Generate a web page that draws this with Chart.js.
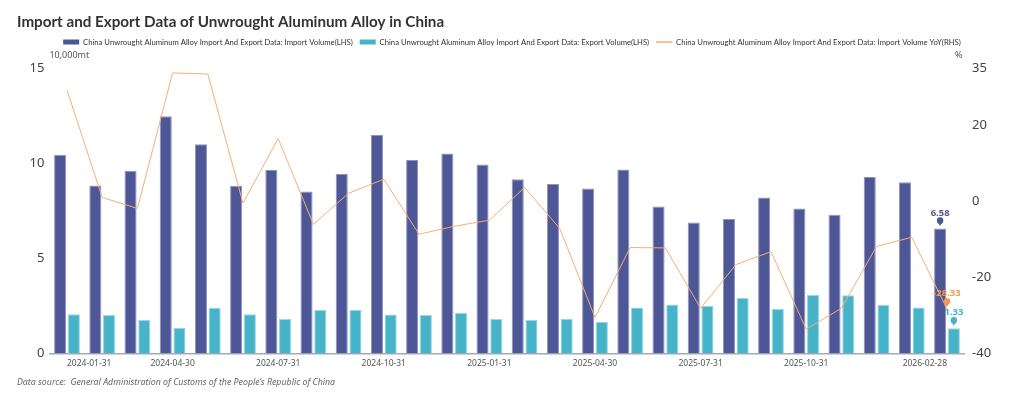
<!DOCTYPE html>
<html>
<head>
<meta charset="utf-8">
<script src="https://cdn.jsdelivr.net/npm/chart.js@4"></script>
<style>
  html, body { margin: 0; padding: 0; background: #fff; }
  #wrap { width: 1024px; height: 399px; }
</style>
</head>
<body>
<div id="wrap"><canvas id="chart"></canvas></div>
<script>
var months = ['2024-01-31','2024-02-29','2024-03-31','2024-04-30','2024-05-31','2024-06-30',
  '2024-07-31','2024-08-31','2024-09-30','2024-10-31','2024-11-30','2024-12-31',
  '2025-01-31','2025-02-28','2025-03-31','2025-04-30','2025-05-31','2025-06-30',
  '2025-07-31','2025-08-31','2025-09-30','2025-10-31','2025-11-30','2025-12-31',
  '2026-01-31','2026-02-28'];

// 10,000mt
var importVolume = [10.47, 8.85, 9.62, 12.50, 11.02, 8.83, 9.66, 8.53, 9.46, 11.51, 10.19, 10.54, 9.96,
  9.18, 8.93, 8.69, 9.69, 7.74, 6.90, 7.08, 8.21, 7.63, 7.31, 9.30, 9.02, 6.58];
var exportVolume = [2.07, 2.02, 1.76, 1.35, 2.41, 2.07, 1.81, 2.29, 2.30, 2.05, 2.02, 2.13, 1.81,
  1.76, 1.83, 1.67, 2.42, 2.58, 2.50, 2.92, 2.35, 3.08, 3.06, 2.55, 2.42, 1.33];
// %
var importYoY = [29.4, 1.1, -1.8, 33.9, 33.6, -0.4, 16.6, -6.0, 2.2, 5.9, -8.6, -6.5, -4.9,
  3.7, -7.1, -30.5, -12.1, -12.2, -28.1, -16.6, -13.2, -33.6, -28.1, -11.8, -9.4, -28.33];

// which month labels show on the x axis
var shownTicks = ['2024-01-31', '2024-04-30', '2024-07-31', '2024-10-31', '2025-01-31',
  '2025-04-30', '2025-07-31', '2025-10-31', '2026-02-28'];
var leftTicks = [0, 5, 10, 15];
var rightTicks = [-40, -20, 0, 20, 35];

var seriesNames = [
  'China Unwrought Aluminum Alloy Import And Export Data: Import Volume(LHS)',
  'China Unwrought Aluminum Alloy Import And Export Data: Export Volume(LHS)',
  'China Unwrought Aluminum Alloy Import And Export Data: Import Volume YoY(RHS)'
];

var colImport = '#4e5796';
var colExport = '#46b3c9';
var colYoY = '#f6ad74';
var fontFam = '"Noto Sans", "Open Sans", sans-serif';
var fontNarrow = 'Lato, "Noto Sans", sans-serif';

// pins + value labels on the last point, unit texts above the axes
var lastValuePins = {
  id: 'lastValuePins',
  afterDatasetsDraw: function(chart) {
    var ctx = chart.ctx;
    var area = chart.chartArea;
    ctx.save();
    ctx.font = '9px ' + fontFam;
    ctx.fillStyle = '#555';
    ctx.textBaseline = 'middle';
    ctx.textAlign = 'left';
    ctx.fillText('10,000mt', area.left, area.top - 13);
    ctx.textAlign = 'right';
    ctx.fillText('%', area.right - 2, area.top - 13);

    chart.data.datasets.forEach(function(ds, i) {
      var meta = chart.getDatasetMeta(i);
      var n = ds.data.length - 1;
      var el = meta.data[n];
      if (!el) return;
      var x = el.x, y = el.y;
      ctx.fillStyle = ds.pinColor;
      ctx.beginPath();
      ctx.arc(x, y - 8, 3.2, 0, Math.PI * 2);
      ctx.fill();
      ctx.beginPath();
      ctx.moveTo(x - 2.6, y - 6.5);
      ctx.lineTo(x + 2.6, y - 6.5);
      ctx.lineTo(x, y - 2.5);
      ctx.closePath();
      ctx.fill();
      ctx.font = 'bold 9.5px ' + fontFam;
      ctx.textAlign = 'center';
      ctx.textBaseline = 'bottom';
      ctx.fillText(ds.data[n].toFixed(2), x, y - 11);
    });
    ctx.restore();
  }
};

var chart = new Chart(document.getElementById('chart'), {
  type: 'bar',
  data: {
    labels: months,
    datasets: [
      {
        label: seriesNames[0],
        data: importVolume,
        backgroundColor: colImport,
        borderColor: '#8d93c2',
        borderWidth: 1,
        pinColor: colImport,
        yAxisID: 'y',
        categoryPercentage: 0.78,
        barPercentage: 0.88,
        order: 2
      },
      {
        label: seriesNames[1],
        data: exportVolume,
        backgroundColor: colExport,
        borderColor: '#9ad7e3',
        borderWidth: 1,
        pinColor: colExport,
        yAxisID: 'y',
        categoryPercentage: 0.78,
        barPercentage: 0.88,
        order: 2
      },
      {
        type: 'line',
        label: seriesNames[2],
        data: importYoY,
        borderColor: colYoY,
        backgroundColor: colYoY,
        pinColor: '#f39a4f',
        borderWidth: 1,
        pointRadius: 0,
        tension: 0,
        yAxisID: 'y1',
        order: 1
      }
    ]
  },
  options: {
    responsive: true,
    maintainAspectRatio: false,
    animation: false,
    layout: { padding: { left: 17, right: 17, top: 0, bottom: 0 } },
    plugins: {
      title: {
        display: true,
        text: 'Import and Export Data of Unwrought Aluminum Alloy in China',
        align: 'start',
        color: '#333',
        font: { family: fontNarrow, size: 15.2, weight: 'bold' },
        padding: { top: 13, bottom: 0 }
      },
      subtitle: {
        display: true,
        position: 'bottom',
        align: 'start',
        text: 'Data source:  General Administration of Customs of the People\u2019s Republic of China',
        color: '#666',
        font: { family: fontFam, size: 8.8, style: 'italic' },
        padding: { top: 0, bottom: 11 }
      },
      legend: {
        position: 'top',
        labels: {
          color: '#333',
          font: { family: fontNarrow, size: 7.7 },
          usePointStyle: true,
          pointStyleWidth: 16,
          boxHeight: 5,
          padding: 7,
          generateLabels: function(chart) {
            return chart.data.datasets.map(function(ds, i) {
              var isLine = ds.type === 'line';
              return {
                text: ds.label,
                fillStyle: ds.backgroundColor,
                strokeStyle: isLine ? ds.borderColor : ds.backgroundColor,
                lineWidth: isLine ? 1.5 : 0,
                pointStyle: isLine ? 'line' : 'rect',
                fontColor: '#333',
                datasetIndex: i,
                hidden: false
              };
            });
          }
        }
      },
      tooltip: { enabled: false }
    },
    scales: {
      x: {
        grid: { display: false, drawTicks: false },
        border: { display: true, color: '#a4a8b8', width: 1.5 },
        ticks: {
          color: '#555',
          font: { family: fontFam, size: 8.5 },
          padding: 5,
          maxRotation: 0,
          autoSkip: false,
          align: 'inner',
          callback: function(v, i) {
            return shownTicks.indexOf(months[i]) >= 0 ? months[i] : null;
          }
        },
        afterFit: function(s) { s.height = 24; }
      },
      xTop: {
        position: 'top',
        grid: { display: false, drawTicks: false },
        border: { display: false },
        ticks: { display: false },
        afterFit: function(s) { s.height = 12.8; }
      },
      y: {
        position: 'left',
        min: 0,
        max: 15,
        grid: { display: false, drawTicks: false },
        border: { display: false },
        ticks: {
          color: '#444',
          font: { family: fontFam, size: 13 },
          padding: 5
        },
        afterBuildTicks: function(s) {
          s.ticks = leftTicks.map(function(v) { return { value: v }; });
        },
        afterFit: function(s) { s.width = 32.4; }
      },
      y1: {
        position: 'right',
        min: -40,
        max: 35,
        grid: { display: false, drawTicks: false },
        border: { display: false },
        ticks: {
          color: '#444',
          font: { family: fontFam, size: 13 },
          padding: 7.5
        },
        afterBuildTicks: function(s) {
          s.ticks = rightTicks.map(function(v) { return { value: v }; });
        },
        afterFit: function(s) { s.width = 42.4; }
      }
    }
  },
  plugins: [lastValuePins]
});
</script>
</body>
</html>
